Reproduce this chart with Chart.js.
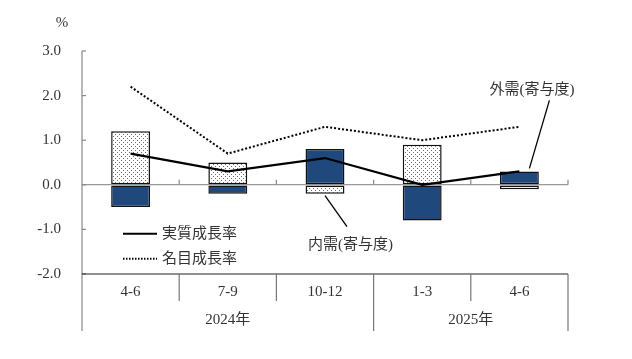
<!DOCTYPE html>
<html>
<head>
<meta charset="UTF-8">
<title>GDP growth</title>
<script src="https://cdn.jsdelivr.net/npm/chart.js@4/dist/chart.umd.min.js"></script>
<style>
  body{margin:0;background:#fff;}
  #wrap{width:632px;height:359px;}
</style>
</head>
<body>
<div id="wrap"><canvas id="chart" width="632" height="359"></canvas></div>
<script>
// data
const quarters = ["4-6", "7-9", "10-12", "1-3", "4-6"];
const years = [["2024年", 0, 2], ["2025年", 3, 4]];
const domestic = [1.2, 0.5, -0.2, 0.9, -0.1];   // 内需(寄与度)
const external = [-0.5, -0.2, 0.8, -0.8, 0.3];  // 外需(寄与度)
const realGrowth = [0.7, 0.3, 0.6, 0.0, 0.3];   // 実質成長率
const nominalGrowth = [2.2, 0.7, 1.3, 1.0, 1.3]; // 名目成長率

const serif = "'Liberation Serif', 'Noto Sans CJK JP', serif";
const navy = "#1f497d";

function dotPattern(){
   const c = document.createElement("canvas");
   c.width = 4; c.height = 4;
   const g = c.getContext("2d");
   g.fillStyle = "#fff";
   g.fillRect(0,0,4,4);
   g.fillStyle = "#6a6a6a";
   g.fillRect(1,0,1,1);
   g.fillRect(3,2,1,1);
   return g.createPattern(c, "repeat");
}
const ctx = document.getElementById("chart").getContext("2d");
const dots = dotPattern();

const decor = {
   id: "decor",
   afterDraw(chart){
      const {ctx, chartArea:a, scales:{x, y}} = chart;
      const bottom = a.bottom, zero = y.getPixelForValue(0);
      const step = (a.right - a.left) / quarters.length;
      ctx.save();
      // axis lines
      ctx.strokeStyle = "#888";
      ctx.lineWidth = 1.2;
      ctx.beginPath();
      ctx.moveTo(a.left, a.top); ctx.lineTo(a.left, bottom + 57);
      ctx.stroke();
      // y ticks, inward
      for(let v = -2; v <= 3; v++){
         const py = y.getPixelForValue(v);
         ctx.beginPath(); ctx.moveTo(a.left, py); ctx.lineTo(a.left + 4, py); ctx.stroke();
      }
      // small ticks on zero line
      for(let i = 1; i <= quarters.length; i++){
         const px = a.left + step * i;
         ctx.beginPath(); ctx.moveTo(px, zero); ctx.lineTo(px, zero - 5); ctx.stroke();
      }
      // bottom frame
      ctx.strokeStyle = "#222";
      ctx.beginPath(); ctx.moveTo(a.left, bottom); ctx.lineTo(a.right, bottom); ctx.stroke();
      ctx.strokeStyle = "#777";
      const yearEnds = years.map(yy => yy[2] + 1);
      for(let i = 1; i <= quarters.length; i++){
         const px = a.left + step * i;
         const len = yearEnds.includes(i) ? 57 : 27;
         ctx.beginPath(); ctx.moveTo(px, bottom); ctx.lineTo(px, bottom + len); ctx.stroke();
      }
      // category labels
      ctx.fillStyle = "#333";
      ctx.textAlign = "center";
      ctx.textBaseline = "middle";
      ctx.font = "15px " + serif;
      quarters.forEach((q, i) => ctx.fillText(q, x.getPixelForValue(i), bottom + 18));
      years.forEach(([label, from, to]) => {
         const cx = (x.getPixelForValue(from) + x.getPixelForValue(to)) / 2;
         ctx.fillText(label, cx, bottom + 46);
      });
      // unit
      ctx.fillText("%", a.left - 20, a.top - 28);
      // legend
      ctx.textAlign = "left";
      const lx = a.left + 41, ly1 = y.getPixelForValue(-1.1), ly2 = y.getPixelForValue(-1.66);
      ctx.strokeStyle = "#000";
      ctx.lineWidth = 2;
      ctx.beginPath(); ctx.moveTo(lx, ly1); ctx.lineTo(lx + 34, ly1); ctx.stroke();
      ctx.setLineDash([1.5, 1.5]);
      ctx.beginPath(); ctx.moveTo(lx, ly2); ctx.lineTo(lx + 34, ly2); ctx.stroke();
      ctx.setLineDash([]);
      ctx.fillText("実質成長率", lx + 39, ly1);
      ctx.fillText("名目成長率", lx + 39, ly2);
      // callouts
      ctx.lineWidth = 1.3;
      const ex = x.getPixelForValue(4) + 10, ey = y.getPixelForValue(external[4]) - 3;
      ctx.beginPath(); ctx.moveTo(ex, ey); ctx.lineTo(ex + 20, ey - 68); ctx.stroke();
      ctx.fillText("外需(寄与度)", ex - 40, ey - 78);
      const dx = x.getPixelForValue(2), dy = y.getPixelForValue(domestic[2]) + 2;
      ctx.beginPath(); ctx.moveTo(dx, dy); ctx.lineTo(dx + 22, dy + 31); ctx.stroke();
      ctx.fillText("内需(寄与度)", dx - 17, dy + 49);
      ctx.restore();
   }
};

new Chart(ctx, {
   data: {
      labels: quarters,
      datasets: [
         {type:"line", label:"実質成長率", data:realGrowth, stack:"real", order:0,
          borderColor:"#000", borderWidth:2.2, pointRadius:0, tension:0, fill:false},
         {type:"line", label:"名目成長率", data:nominalGrowth, stack:"nominal", order:0,
          borderColor:"#000", borderWidth:2, borderDash:[2,2], pointRadius:0, tension:0, fill:false},
         {type:"bar", label:"内需(寄与度)", data:domestic, stack:"gdp", order:1,
          backgroundColor:dots, borderColor:"#111", borderWidth:1.5, borderSkipped:false},
         {type:"bar", label:"外需(寄与度)", data:external, stack:"gdp", order:1,
          backgroundColor:navy, borderColor:"#111", borderWidth:1.5, borderSkipped:false}
      ]
   },
   options: {
      responsive:false,
      animation:false,
      layout:{padding:{left:0, top:51, right:64, bottom:85}},
      plugins:{legend:{display:false}, tooltip:{enabled:false}},
      datasets:{bar:{categoryPercentage:1, barPercentage:0.4}},
      scales:{
         x:{display:false, stacked:true, offset:true},
         y:{
            stacked:true, min:-2, max:3,
            afterFit: s => { s.width = 82; },
            border:{display:false},
            grid:{drawTicks:false, lineWidth:1.2,
                  color: c => c.tick && c.tick.value === 0 ? "#999" : "rgba(0,0,0,0)"},
            ticks:{stepSize:1, padding:21, color:"#333",
                   font:{family:serif, size:15},
                   callback: v => v.toFixed(1)}
         }
      }
   },
   plugins:[decor]
});
</script>
</body>
</html>
